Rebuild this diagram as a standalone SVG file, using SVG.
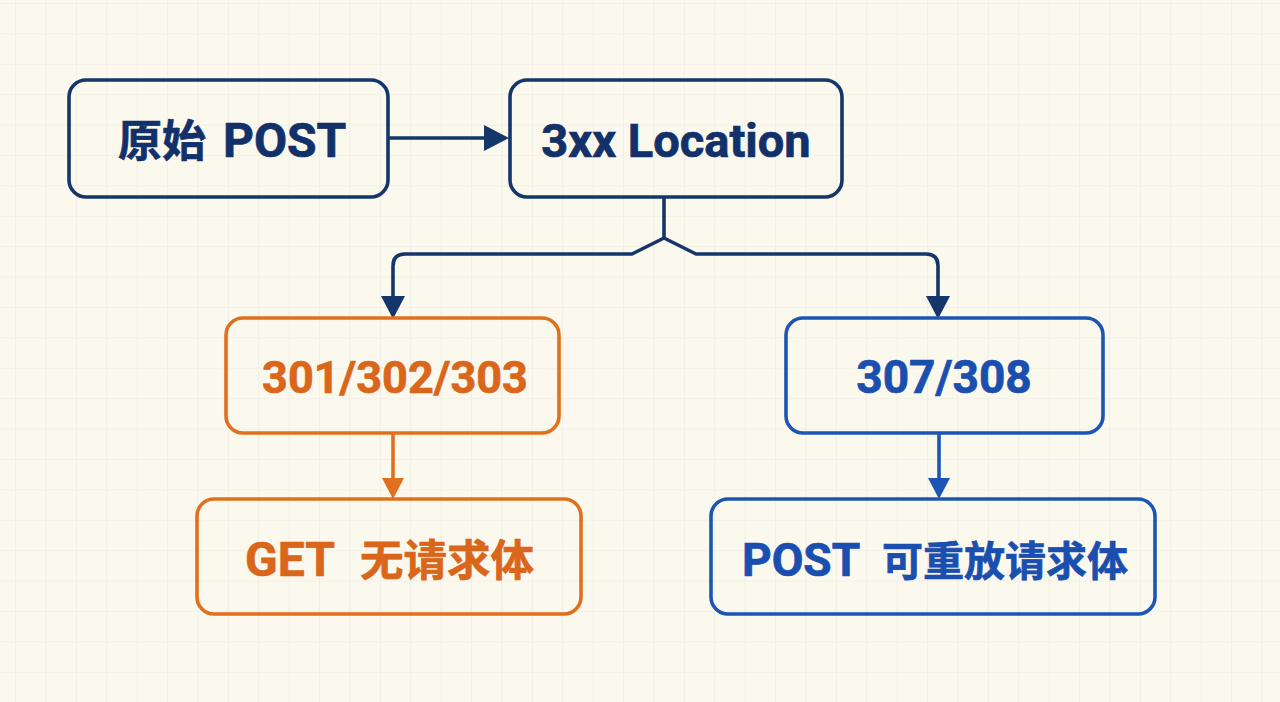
<svg xmlns="http://www.w3.org/2000/svg" width="1280" height="702" viewBox="0 0 1280 702">
<defs>
<pattern id="grid" x="15" y="3" width="30.4" height="30.4" patternUnits="userSpaceOnUse">
<path d="M0 0H30.4M0 0V30.4" fill="none" stroke="#ebe9e1" stroke-width="1.2"/>
</pattern>
</defs>
<style>
.box{fill:none;stroke-width:3.6}
.navy{stroke:#15366a}
.orange{stroke:#e0701e}
.blue{stroke:#1c55b4}
.lbl{font-family:Roboto,"Liberation Sans","Noto Sans CJK SC",sans-serif;font-weight:bold;stroke-width:0.7}
.cjk{font-family:"Noto Sans CJK SC",sans-serif;font-weight:bold}
.mid{text-anchor:middle}
.tn{fill:#12316a;stroke:#12316a}
.to{fill:#d9661a;stroke:#d9661a}
.tb{fill:#1a4fb0;stroke:#1a4fb0}
.conn{fill:none;stroke-width:3.6;stroke-linejoin:round}
</style>
<rect width="1280" height="702" fill="#fbf8ee"/>
<rect width="1280" height="702" fill="url(#grid)"/>

<g id="connectors">
<line class="conn navy" x1="388" y1="138" x2="486" y2="138"/>
<path d="M484 125L509 138L484 151Z" fill="#15366a"/>
<path class="conn navy" d="M664 197V238L632 254H405Q393 254 393 266V296"/>
<path d="M381 296L393 319L405 296Z" fill="#15366a"/>
<path class="conn navy" d="M664 238L696 254H926Q938 254 938 266V296"/>
<path d="M926 296L938 319L950 296Z" fill="#15366a"/>
<line class="conn orange" x1="393" y1="433" x2="393" y2="480"/>
<path d="M382 478L393 499L404 478Z" fill="#e0701e"/>
<line class="conn blue" x1="939" y1="433" x2="939" y2="480"/>
<path d="M928 478L939 499L950 478Z" fill="#1c55b4"/>
</g>

<g id="node-post">
<rect class="box navy" x="69" y="80" width="319" height="117" rx="17"/>
<text class="lbl tn" y="157"><tspan class="cjk" x="118" font-size="44">原始</tspan><tspan x="223" font-size="48">POST</tspan></text>
</g>
<g id="node-3xx">
<rect class="box navy" x="510" y="80" width="332" height="117" rx="17"/>
<text class="lbl tn mid" x="676" y="157" font-size="47">3xx Location</text>
</g>
<g id="node-301">
<rect class="box orange" x="226" y="318" width="333" height="115" rx="17"/>
<text class="lbl to mid" x="395" y="393" font-size="45">301/302/303</text>
</g>
<g id="node-get">
<rect class="box orange" x="197" y="499" width="384" height="115" rx="17"/>
<text class="lbl to" y="576"><tspan x="245" font-size="48">GET</tspan><tspan class="cjk" x="360" font-size="43.5">无请求体</tspan></text>
</g>
<g id="node-307">
<rect class="box blue" x="786" y="318" width="317" height="115" rx="17"/>
<text class="lbl tb mid" x="944" y="393" font-size="46">307/308</text>
</g>
<g id="node-postreplay">
<rect class="box blue" x="711" y="499" width="444" height="115" rx="17"/>
<text class="lbl tb" y="576"><tspan x="742" font-size="46">POST</tspan><tspan class="cjk" x="882" font-size="41">可重放请求体</tspan></text>
</g>
</svg>
